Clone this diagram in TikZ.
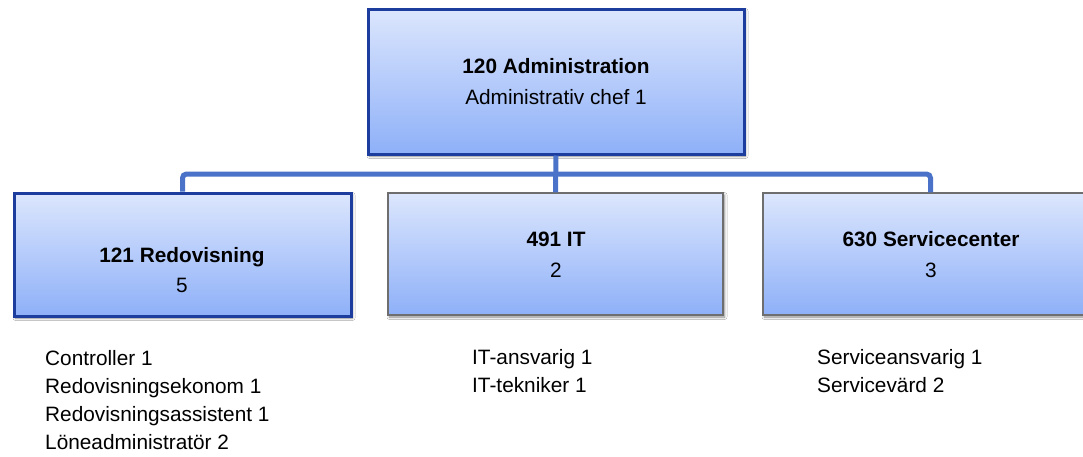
\documentclass[tikz,border=0pt]{standalone}
\usepackage{fontspec}
\setmainfont{Liberation Sans}
\usetikzlibrary{shadows.blur}
\definecolor{gtop}{HTML}{DCE6FD}
\definecolor{gbot}{HTML}{8EB0F8}
\definecolor{darkborder}{HTML}{1C3D9E}
\definecolor{greyborder}{HTML}{6E6E6E}
\definecolor{conncol}{HTML}{4A72C8}
\tikzset{
  unitbox/.style={rectangle, top color=gtop, bottom color=gbot, inner sep=0pt,
    blur shadow={shadow xshift=1.5pt, shadow yshift=-2pt, shadow blur steps=6, shadow blur radius=2.5pt, shadow opacity=45}},
  selbox/.style={unitbox, draw=darkborder, line width=3pt},
  plainbox/.style={unitbox, draw=greyborder, line width=1.2pt},
  titletxt/.style={anchor=base, font=\fontsize{20.8}{28}\selectfont\bfseries, inner sep=0pt},
  counttxt/.style={anchor=base, font=\fontsize{20.8}{28}\selectfont, inner sep=0pt},
  listtxt/.style={anchor=base west, align=left, font=\fontsize{20.8}{28}\selectfont, inner sep=0pt},
  conn/.style={draw=conncol, line width=5pt, rounded corners=4pt},
}
\begin{document}
\begin{tikzpicture}[x=1pt,y=-1pt]
\useasboundingbox (0,0) rectangle (1083,456);
\clip (0,0) rectangle (1083,456);
\fill[white] (0,0) rectangle (1083,456);
% boxes
\node[selbox, minimum width=376pt, minimum height=145pt] (top) at (556,81.5) {};
\node[selbox, minimum width=337pt, minimum height=123pt] (left) at (182.5,254.5) {};
\node[plainbox, minimum width=335pt, minimum height=122pt] (mid) at (555.5,254) {};
\node[plainbox, minimum width=335pt, minimum height=122pt] (right) at (930.5,254) {};
% connectors
\coordinate (bus) at (556,174);
\draw[conn] (top.south) -- (mid.north);
\draw[conn] (left.north) |- (bus) -| (right.north);
% texts
\node[titletxt] (topT) at (556,73) {120 Administration};
\node[counttxt] (topC) at (556,104) {Administrativ chef 1};
\node[titletxt] (leftT) at (182,262) {121 Redovisning};
\node[counttxt] (leftC) at (182,292) {5};
\node[titletxt] (midT) at (556,246) {491 IT};
\node[counttxt] (midC) at (556,277) {2};
\node[titletxt] (rightT) at (931,246) {630 Servicecenter};
\node[counttxt] (rightC) at (931,277) {3};
% lists (anchor = baseline of the last line)
\node[listtxt] (leftL) at (45,449) {Controller 1\\Redovisningsekonom 1\\Redovisningsassistent 1\\Löneadministratör 2};
\node[listtxt] (midL) at (472,392) {IT-ansvarig 1\\IT-tekniker 1};
\node[listtxt] (rightL) at (817,392) {Serviceansvarig 1\\Servicevärd 2};
\end{tikzpicture}
\end{document}
